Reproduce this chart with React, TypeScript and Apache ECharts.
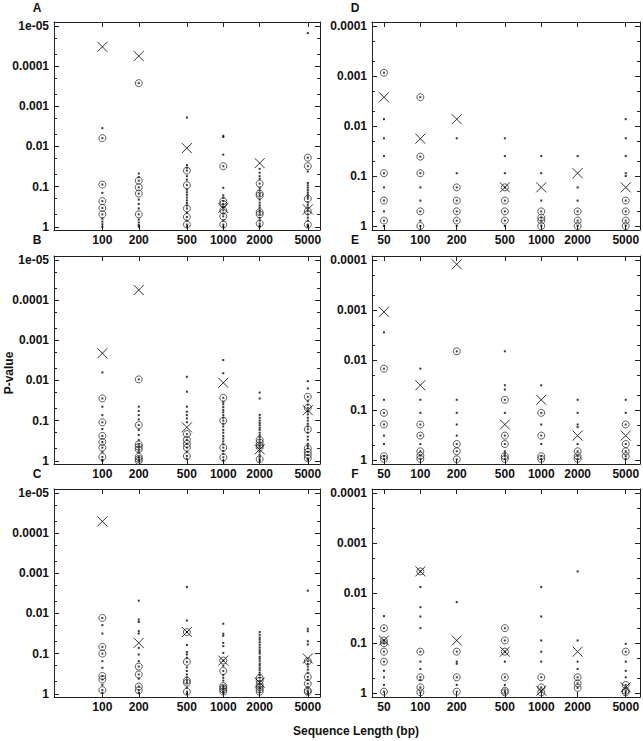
import React, { useEffect, useRef } from 'react';
import * as echarts from 'echarts';

// ---------- data ----------
const lengthsLeft = [100, 200, 500, 1000, 2000, 5000];
const lengthsRight = [50, 100, 200, 500, 1000, 2000, 5000];
const xTicksLeft = [100, 200, 500, 1000, 2000, 5000];
const xTicksRight = [50, 100, 200, 500, 1000, 2000, 5000];
const yTicksLeft = [1e-5, 1e-4, 1e-3, 0.01, 0.1, 1];
const yTickLabelsLeft = ['1e-05', '0.0001', '0.001', '0.01', '0.1', '1'];
const yTicksRight = [1e-4, 1e-3, 0.01, 0.1, 1];
const yTickLabelsRight = ['0.0001', '0.001', '0.01', '0.1', '1'];

// Panel A
const aCross = [3.3e-5, 5.6e-5, 0.011, 0.34, 0.026, 0.37];
const aCircle = [
  [0.0062, 0.089, 0.23, 0.34, 0.49],
  [2.65e-4, 0.071, 0.104, 0.149, 0.49],
  [0.04, 0.092, 0.35, 0.57, 0.88],
  [0.031, 0.23, 0.27, 0.39, 0.55, 0.88],
  [0.084, 0.149, 0.167, 0.43, 0.49, 0.83],
  [0.019, 0.031, 0.2, 0.41, 0.88],
];
const aDot = [
  [0.0035, 0.143, 0.63, 0.74, 0.86, 1.0],
  [0.047, 0.058, 0.21, 0.27, 0.35, 0.66, 0.78, 0.9, 1.0],
  [0.0019, 0.029, 0.034, 0.055, 0.067, 0.119, 0.138, 0.16, 0.187, 0.22, 0.255, 0.296, 0.45, 0.7, 1.0],
  [0.0054, 0.0058, 0.016, 0.107, 0.165, 0.19, 0.31, 0.47, 0.7, 1.0],
  [0.036, 0.045, 0.055, 0.064, 0.107, 0.124, 0.21, 0.25, 0.29, 0.33, 0.39, 0.6, 0.7, 0.93, 1.0],
  [1.5e-5, 0.042, 0.081, 0.093, 0.106, 0.122, 0.14, 0.158, 0.18, 0.245, 0.284, 0.33, 0.49, 0.59, 0.7, 0.93, 1.0],
];

// Panel B
const bCross = [0.0021, 5.6e-5, 0.147, 0.0114, 0.52, 0.055];
const bCircle = [
  [0.028, 0.11, 0.24, 0.34, 0.47, 0.8],
  [0.0094, 0.129, 0.39, 0.45, 0.52, 0.8, 0.9, 1.0],
  [0.216, 0.3, 0.38, 0.47, 0.76],
  [0.027, 0.1, 0.47, 0.82],
  [0.3, 0.35, 0.41, 0.46, 0.91],
  [0.0255, 0.048, 0.165, 0.49, 0.6, 0.72, 0.87],
];
const bDot = [
  [0.0063, 0.045, 0.073, 0.162, 0.6, 0.95, 1.0],
  [0.045, 0.058, 0.073, 0.093, 0.172, 0.229, 0.305, 0.6],
  [0.0081, 0.019, 0.045, 0.06, 0.073, 0.088, 0.109, 0.6, 0.9],
  [0.0031, 0.0066, 0.034, 0.039, 0.046, 0.054, 0.062, 0.073, 0.085, 0.12, 0.14, 0.17, 0.2, 0.24, 0.28, 0.33, 0.39, 0.57, 0.67, 1.0],
  [0.02, 0.028, 0.072, 0.085, 0.1, 0.115, 0.13, 0.15, 0.17, 0.2, 0.23, 0.26, 0.6, 0.7, 0.8, 1.0],
  [0.0104, 0.0158, 0.033, 0.04, 0.06, 0.07, 0.085, 0.1, 0.12, 0.14, 0.2, 0.25, 0.3, 0.38, 0.43, 0.95],
];

// Panel C
const cCross = [5.1e-5, 0.054, 0.029, 0.149, 0.53, 0.132];
const cCircle = [
  [0.0129, 0.068, 0.1, 0.36, 0.44, 0.81],
  [0.21, 0.33, 0.66, 0.82],
  [0.029, 0.16, 0.47, 0.53, 0.89],
  [0.149, 0.27, 0.64, 0.71, 0.78, 0.88],
  [0.4, 0.47, 0.59, 0.68, 0.78, 0.89],
  [0.154, 0.38, 0.56, 0.83, 0.9],
];
const cDot = [
  [0.0195, 0.0316, 0.154, 0.225, 0.6, 0.95],
  [0.0048, 0.0142, 0.0163, 0.0277, 0.0316, 0.072, 0.105, 0.154, 0.42, 0.95],
  [0.0022, 0.015, 0.061, 0.092, 0.105, 0.127, 0.22, 0.27, 0.33, 0.39, 0.7, 1.0],
  [0.018, 0.032, 0.036, 0.054, 0.065, 0.096, 0.2, 0.34, 0.4, 0.47, 0.95],
  [0.029, 0.034, 0.04, 0.045, 0.052, 0.06, 0.07, 0.08, 0.09, 0.1, 0.12, 0.135, 0.155, 0.18, 0.2, 0.23, 0.26, 0.3, 0.34],
  [0.0027, 0.024, 0.0277, 0.049, 0.059, 0.18, 0.21, 0.25, 0.3, 0.45, 0.7, 1.0],
];

// Panel D
const dCross = [0.00266, 0.0179, 0.0073, 0.169, 0.169, 0.088, 0.169];
const dCircle = [
  [8.6e-4, 0.088, 0.31, 0.78],
  [0.00266, 0.041, 0.088, 0.51, 1.0],
  [0.169, 0.31, 0.51, 0.78],
  [0.169, 0.31, 0.51, 0.78],
  [0.51, 0.68, 0.78, 1.0],
  [0.51, 0.78, 1.0],
  [0.31, 0.51, 0.78, 1.0],
];
const dDot = [
  [0.0073, 0.0176, 0.04, 0.169, 0.51, 1.0],
  [0.169, 0.31, 0.78],
  [0.0176, 0.088, 1.0],
  [0.0176, 0.04, 0.088, 1.0],
  [0.04, 0.088, 0.31],
  [0.04, 0.169, 0.31],
  [0.0073, 0.0176, 0.04, 0.088, 0.1],
];

// Panel E
const eCross = [0.00109, 0.032, 1.22e-4, 0.195, 0.0625, 0.325, 0.325];
const eCircle = [
  [0.0149, 0.114, 0.195, 0.84, 0.95],
  [0.195, 0.325, 0.67, 0.82, 0.95],
  [0.0067, 0.48, 0.67, 0.97],
  [0.0625, 0.325, 0.48, 0.84, 0.95],
  [0.114, 0.325, 0.84, 0.95],
  [0.67, 0.84, 0.95],
  [0.195, 0.48, 0.67, 0.84],
];
const eDot = [
  [0.0028, 0.0625, 0.325, 0.48],
  [0.0149, 0.0625, 0.114, 0.48],
  [0.0625, 0.114, 0.195, 0.325],
  [0.0067, 0.032, 0.039, 0.114, 0.67, 0.75],
  [0.032, 0.195, 0.48],
  [0.0625, 0.114, 0.195, 0.22, 0.48],
  [0.0625, 0.114, 0.95],
];

// Panel F
const fCross = [0.089, 0.0037, 0.089, 0.149, 0.9, 0.149, 0.77];
const fCircle = [
  [0.0506, 0.089, 0.101, 0.149, 0.236, 0.94],
  [0.0037, 0.149, 0.485, 0.77, 0.97],
  [0.149, 0.485, 0.94],
  [0.0506, 0.089, 0.149, 0.485, 0.9, 0.97],
  [0.485, 0.77, 0.97],
  [0.485, 0.64, 0.79],
  [0.149, 0.69, 0.9, 0.97],
];
const fDot = [
  [0.029, 0.36, 0.485, 0.69],
  [0.0076, 0.0192, 0.0295, 0.0506, 0.236, 0.33, 0.55],
  [0.0152, 0.236, 0.26, 0.69],
  [0.236, 0.69],
  [0.0076, 0.0295, 0.089, 0.149, 0.236],
  [0.0037, 0.089, 0.236, 0.33],
  [0.104, 0.236, 0.36, 0.485],
];

// ---------- layout ----------
const FONT = 'Liberation Sans, Arial, Helvetica, sans-serif';
const AXIS_COLOR = '#222';
const CROSS_PATH = 'path://M0,0L10,10M10,0L0,10';

type Panel = {
  letter: string;
  lengths: number[];
  xTicks: number[];
  yTicks: number[];
  yLabels: string[];
  cross: number[];
  circle: number[][];
  dot: number[][];
  left: number;
  top: number;
  width: number;
  height: number;
  xMin: number;
  xMax: number;
  dMin: number;
  dMax: number;
  letterX: number;
  letterY: number;
};

const LEFT_COL = { left: 54, width: 266, xMin: 1.6, xMax: 3.8 };
const RIGHT_COL = { left: 372, width: 268, xMin: 1.6, xMax: 3.817 };
const ROW_TOPS = [22, 256, 489];
const PANEL_H = 208;

const panels: Panel[] = [
  { letter: 'A', lengths: lengthsLeft, xTicks: xTicksLeft, yTicks: yTicksLeft, yLabels: yTickLabelsLeft, cross: aCross, circle: aCircle, dot: aDot, ...LEFT_COL, top: ROW_TOPS[0], height: PANEL_H, dMin: -0.08, dMax: 5.1, letterX: 37, letterY: 8 },
  { letter: 'B', lengths: lengthsLeft, xTicks: xTicksLeft, yTicks: yTicksLeft, yLabels: yTickLabelsLeft, cross: bCross, circle: bCircle, dot: bDot, ...LEFT_COL, top: ROW_TOPS[1], height: PANEL_H, dMin: -0.08, dMax: 5.1, letterX: 37, letterY: 240 },
  { letter: 'C', lengths: lengthsLeft, xTicks: xTicksLeft, yTicks: yTicksLeft, yLabels: yTickLabelsLeft, cross: cCross, circle: cCircle, dot: cDot, ...LEFT_COL, top: ROW_TOPS[2], height: PANEL_H, dMin: -0.08, dMax: 5.1, letterX: 37, letterY: 474 },
  { letter: 'D', lengths: lengthsRight, xTicks: xTicksRight, yTicks: yTicksRight, yLabels: yTickLabelsRight, cross: dCross, circle: dCircle, dot: dDot, ...RIGHT_COL, top: ROW_TOPS[0], height: PANEL_H, dMin: -0.08, dMax: 4.08, letterX: 355, letterY: 8 },
  { letter: 'E', lengths: lengthsRight, xTicks: xTicksRight, yTicks: yTicksRight, yLabels: yTickLabelsRight, cross: eCross, circle: eCircle, dot: eDot, ...RIGHT_COL, top: ROW_TOPS[1], height: PANEL_H, dMin: -0.08, dMax: 4.08, letterX: 355, letterY: 240 },
  { letter: 'F', lengths: lengthsRight, xTicks: xTicksRight, yTicks: yTicksRight, yLabels: yTickLabelsRight, cross: fCross, circle: fCircle, dot: fDot, ...RIGHT_COL, top: ROW_TOPS[2], height: PANEL_H, dMin: -0.08, dMax: 4.08, letterX: 355, letterY: 474 },
];

const toD = (p: number) => -Math.log10(p);

function columnPoints(lengths: number[], cols: number[][]) {
  const out: number[][] = [];
  cols.forEach((arr, i) => arr.forEach((p) => out.push([Math.log10(lengths[i]), toD(p)])));
  return out;
}

function buildOption() {
  const grid: any[] = [];
  const xAxis: any[] = [];
  const yAxis: any[] = [];
  const series: any[] = [];
  const graphic: any[] = [];

  panels.forEach((pn, gi) => {
    grid.push({ left: pn.left, top: pn.top, width: pn.width, height: pn.height });
    const xVals = pn.xTicks.map((v) => Math.log10(v));
    const yVals = pn.yTicks.map(toD);
    const minorVals: number[] = [];
    pn.yTicks.forEach((p) => {
      if (p < 1) {
        minorVals.push(toD(p * 2));
        minorVals.push(toD(p * 5));
      }
    });
    const baseX = {
      type: 'value',
      gridIndex: gi,
      min: pn.xMin,
      max: pn.xMax,
      splitLine: { show: false },
      axisLine: { show: true, onZero: false, lineStyle: { color: AXIS_COLOR, width: 1 } },
    };
    xAxis.push({
      ...baseX,
      position: 'bottom',
      axisTick: { show: true, inside: true, length: 5, customValues: xVals, lineStyle: { color: AXIS_COLOR } },
      axisLabel: {
        show: true,
        customValues: xVals,
        margin: 4,
        formatter: (v: number) => String(Math.round(Math.pow(10, v))),
        fontFamily: FONT,
        fontWeight: 'bold',
        fontSize: 12,
        color: '#111',
      },
    });
    xAxis.push({
      ...baseX,
      position: 'top',
      axisTick: { show: true, inside: true, length: 5, customValues: xVals, lineStyle: { color: AXIS_COLOR } },
      axisLabel: { show: false },
    });
    const baseY = {
      type: 'value',
      gridIndex: gi,
      min: pn.dMin,
      max: pn.dMax,
      splitLine: { show: false },
    };
    const labelFor = (v: number) => {
      const idx = yVals.findIndex((y) => Math.abs(y - v) < 1e-6);
      return idx >= 0 ? pn.yLabels[idx] : '';
    };
    yAxis.push({
      ...baseY,
      position: 'left',
      axisLine: { show: true, onZero: false, lineStyle: { color: AXIS_COLOR, width: 1 } },
      axisTick: { show: true, inside: true, length: 5, customValues: yVals, lineStyle: { color: AXIS_COLOR } },
      axisLabel: {
        show: true,
        customValues: yVals,
        margin: 5,
        formatter: labelFor,
        fontFamily: FONT,
        fontWeight: 'bold',
        fontSize: 12,
        color: '#111',
      },
    });
    yAxis.push({
      ...baseY,
      position: 'right',
      axisLine: { show: true, onZero: false, lineStyle: { color: AXIS_COLOR, width: 1 } },
      axisTick: { show: true, inside: true, length: 5, customValues: yVals, lineStyle: { color: AXIS_COLOR } },
      axisLabel: { show: false },
    });
    yAxis.push({
      ...baseY,
      position: 'left',
      axisLine: { show: false, onZero: false },
      axisTick: { show: true, inside: true, length: 3, customValues: minorVals, lineStyle: { color: AXIS_COLOR } },
      axisLabel: { show: false },
    });
    yAxis.push({
      ...baseY,
      position: 'right',
      axisLine: { show: false, onZero: false },
      axisTick: { show: true, inside: true, length: 3, customValues: minorVals, lineStyle: { color: AXIS_COLOR } },
      axisLabel: { show: false },
    });

    const xi = gi * 2;
    const yi = gi * 4;
    const dotPts = columnPoints(pn.lengths, pn.dot);
    const circlePts = columnPoints(pn.lengths, pn.circle);
    const crossPts = pn.cross.map((p, i) => [Math.log10(pn.lengths[i]), toD(p)]);

    series.push({
      type: 'scatter',
      name: pn.letter + '-dots',
      xAxisIndex: xi,
      yAxisIndex: yi,
      data: dotPts,
      symbol: 'rect',
      symbolSize: 2,
      clip: false,
      itemStyle: { color: '#000' },
      silent: true,
      z: 2,
    });
    series.push({
      type: 'scatter',
      name: pn.letter + '-circles',
      xAxisIndex: xi,
      yAxisIndex: yi,
      data: circlePts,
      symbol: 'circle',
      symbolSize: 7,
      clip: false,
      itemStyle: { color: 'rgba(0,0,0,0)', borderColor: '#333', borderWidth: 1 },
      silent: true,
      z: 3,
    });
    series.push({
      type: 'scatter',
      name: pn.letter + '-centres',
      xAxisIndex: xi,
      yAxisIndex: yi,
      data: circlePts,
      symbol: 'rect',
      symbolSize: 2,
      clip: false,
      itemStyle: { color: '#111' },
      silent: true,
      z: 3,
    });
    series.push({
      type: 'scatter',
      name: pn.letter + '-cross',
      xAxisIndex: xi,
      yAxisIndex: yi,
      data: crossPts,
      symbol: CROSS_PATH,
      symbolSize: 10,
      clip: false,
      itemStyle: { color: 'none', borderColor: '#000', borderWidth: 1 },
      silent: true,
      z: 4,
    });

    graphic.push({
      type: 'text',
      x: pn.letterX,
      y: pn.letterY,
      style: {
        text: pn.letter,
        fill: '#111',
        font: `bold 12px ${FONT}`,
        align: 'center',
        verticalAlign: 'middle',
      },
    });
  });

  graphic.push({
    type: 'text',
    x: 9,
    y: 373,
    rotation: Math.PI / 2,
    style: {
      text: 'P-value',
      fill: '#111',
      font: `bold 12px ${FONT}`,
      align: 'center',
      verticalAlign: 'middle',
    },
  });
  graphic.push({
    type: 'text',
    x: 356,
    y: 731,
    style: {
      text: 'Sequence Length (bp)',
      fill: '#111',
      font: `bold 12px ${FONT}`,
      align: 'center',
      verticalAlign: 'middle',
    },
  });

  return {
    animation: false,
    backgroundColor: '#fff',
    grid,
    xAxis,
    yAxis,
    series,
    graphic,
  };
}

export default function App() {
  const ref = useRef<HTMLDivElement>(null);
  useEffect(() => {
    if (!ref.current) return;
    const chart = echarts.init(ref.current, undefined, { renderer: 'svg' });
    chart.setOption(buildOption() as any);
    return () => chart.dispose();
  }, []);
  return (
    <div
      ref={ref}
      style={{ position: 'fixed', left: 0, top: 0, width: 643, height: 741, background: '#fff' }}
    />
  );
}
